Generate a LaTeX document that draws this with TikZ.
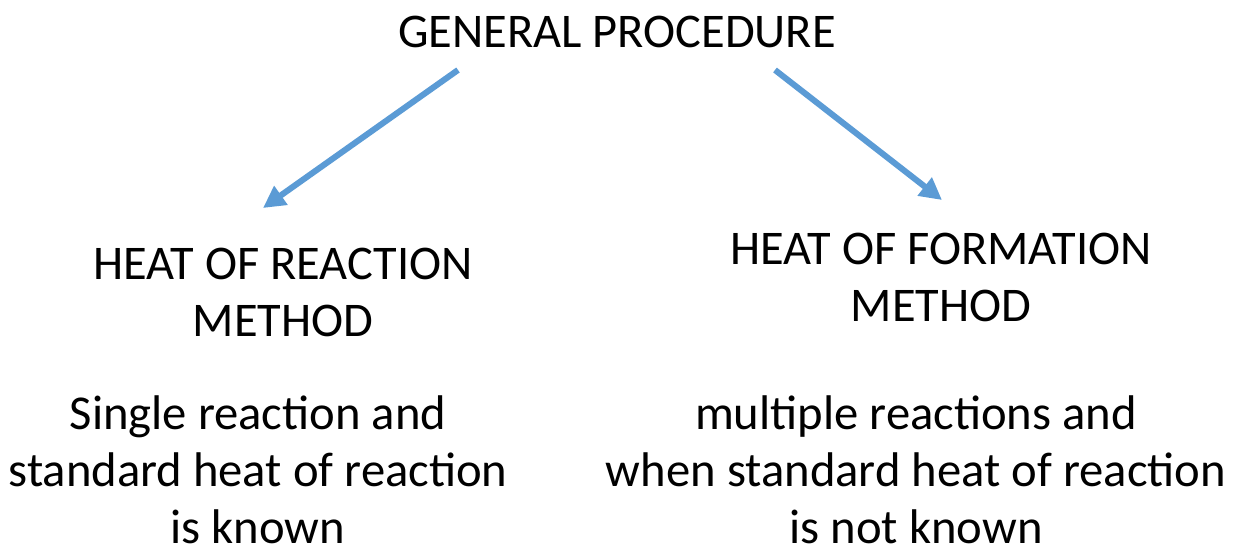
\documentclass[tikz,border=0pt]{standalone}
\usepackage{fontspec}
\setmainfont{Carlito}
\usepackage{xcolor}
\usepackage{tikz}
\usetikzlibrary{positioning, arrows.meta}
\definecolor{arrowblue}{HTML}{5B9BD5}

\begin{document}
\begin{tikzpicture}[
    x=0.025cm, y=-0.025cm,
    node distance=1.2cm,
    >={Triangle[length=5.5mm, width=5.5mm]},
    heading/.style={inner sep=0pt, align=center, font=\fontsize{34.4}{40.5}\selectfont},
    method/.style={inner sep=0pt, align=center, font=\fontsize{34.4}{40.5}\selectfont},
    usage/.style={inner sep=0pt, align=center, font=\fontsize{34.6}{40.5}\selectfont},
    flow/.style={->, line width=4.3pt, arrowblue}
]
\useasboundingbox (0,0) rectangle (1235,549);

% Top
\node[heading] (general) at (617,32) {GENERAL PROCEDURE};

% Methods
\node[method] (reaction) at (283,292) {HEAT OF REACTION\\ METHOD};
\node[method] (formation) at (941,277) {HEAT OF FORMATION\\ METHOD};

% When to use
\node[usage] (single) at (258,470) {Single reaction and\\ standard heat of reaction\\ is known};
\node[usage] (multiple) at (916,470) {multiple reactions and\\ when standard heat of reaction\\ is not known};

% Arrows
\coordinate (leftstart) at (458,70);
\coordinate (leftend) at (263,208);
\coordinate (rightstart) at (775,70);
\coordinate (rightend) at (942,200);
\draw[flow] (leftstart) -- (leftend);
\draw[flow] (rightstart) -- (rightend);

\end{tikzpicture}
\end{document}
